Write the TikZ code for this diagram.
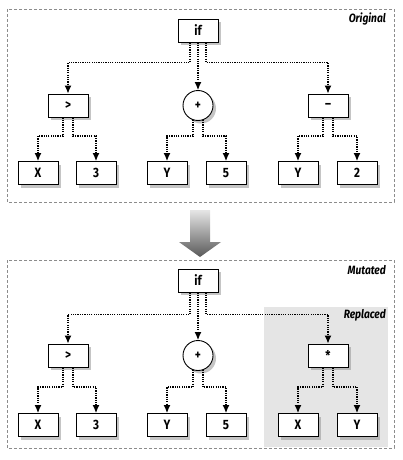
\documentclass[tikz,border=0pt]{standalone}
\usepackage{fontspec}
\setmainfont{Fira Sans}
\newfontfamily\condfont{Fira Sans}[FakeStretch=0.85]
\usetikzlibrary{shadows,arrows.meta,calc}
\begin{document}
\begin{tikzpicture}[x=1pt,y=-1pt,
  shad/.style={drop shadow={shadow xshift=3pt,shadow yshift=-3pt,fill=black!45}},
  box/.style={draw,line width=0.9pt,fill=white,minimum width=40pt,minimum height=23pt,inner sep=0pt,
    font={\condfont\bfseries\fontsize{13.5}{15}\selectfont},shad},
  circ/.style={circle,draw,line width=0.9pt,fill=white,minimum size=30pt,inner sep=0pt,
    font={\condfont\bfseries\fontsize{13.5}{15}\selectfont},shad},
  conn/.style={line width=1.2pt,dash pattern=on 1.2pt off 1.1pt,-{Latex[length=8pt,width=7pt]}},
  frame/.style={draw=black!45,line width=0.6pt,dash pattern=on 3pt off 2pt},
  lbl/.style={anchor=east,inner sep=0pt,font={\condfont\bfseries\itshape\fontsize{12}{14}\selectfont}}]
\useasboundingbox (0,0) rectangle (403,460);
% frames
\draw[frame] (7,9) rectangle (394,202);
\draw[frame] (7,260) rectangle (394,448);
\fill[black!10] (264,307) rectangle (388,447);
\node[lbl] (orig) at (386,19) {Original};
\node[lbl] (mut) at (386,270) {Mutated};
\node[lbl] (repl) at (386,315) {Replaced};
% big arrow
\shade[top color=black!10,bottom color=black!65] (190,210) -- (210,210) -- (210,242) -- (221,242) -- (200,257) -- (179,242) -- (190,242) -- cycle;
% top tree
\node[box] (if1) at (198,30.5) {if};
\node[box] (gt1) at (68,105.5) {>};
\node[circ] (pl1) at (198,105.5) {+};
\node[box] (mi1) at (328,105.5) {–};
\node[box] (x1) at (38,173) {X};
\node[box] (t1) at (96,173) {3};
\node[box] (y1) at (167,173) {Y};
\node[box] (f1) at (226,173) {5};
\node[box] (y2) at (298,173) {Y};
\node[box] (w1) at (357,173) {2};
\draw[conn] ([xshift=-8pt]if1.south) -- ++(0,20) -| (gt1.north);
\draw[conn] (if1.south) -- (pl1.north);
\draw[conn] ([xshift=8pt]if1.south) -- ++(0,20) -| (mi1.north);
\draw[conn] ([xshift=-5pt]gt1.south) |- ($(x1.north)+(0,-25)$) -- (x1.north);
\draw[conn] ([xshift=5pt]gt1.south) |- ($(t1.north)+(0,-25)$) -- (t1.north);
\draw[conn] ($(pl1.center)+(-5,14.2)$) |- ($(y1.north)+(0,-25)$) -- (y1.north);
\draw[conn] ($(pl1.center)+(5,14.2)$) |- ($(f1.north)+(0,-25)$) -- (f1.north);
\draw[conn] ([xshift=-5pt]mi1.south) |- ($(y2.north)+(0,-25)$) -- (y2.north);
\draw[conn] ([xshift=5pt]mi1.south) |- ($(w1.north)+(0,-25)$) -- (w1.north);
% bottom tree
\node[box] (if2) at (198,280.5) {if};
\node[box] (gt2) at (68,355.5) {>};
\node[circ] (pl2) at (198,355.5) {+};
\node[box] (st2) at (328,355.5) {*};
\node[box] (x3) at (38,425) {X};
\node[box] (t3) at (96,425) {3};
\node[box] (y3) at (167,425) {Y};
\node[box] (f3) at (226,425) {5};
\node[box] (x4) at (298,425) {X};
\node[box] (y4) at (357,425) {Y};
\draw[conn] ([xshift=-8pt]if2.south) -- ++(0,22) -| (gt2.north);
\draw[conn] (if2.south) -- (pl2.north);
\draw[conn] ([xshift=8pt]if2.south) -- ++(0,22) -| (st2.north);
\draw[conn] ([xshift=-5pt]gt2.south) |- ($(x3.north)+(0,-26)$) -- (x3.north);
\draw[conn] ([xshift=5pt]gt2.south) |- ($(t3.north)+(0,-26)$) -- (t3.north);
\draw[conn] ($(pl2.center)+(-5,14.2)$) |- ($(y3.north)+(0,-26)$) -- (y3.north);
\draw[conn] ($(pl2.center)+(5,14.2)$) |- ($(f3.north)+(0,-26)$) -- (f3.north);
\draw[conn] ([xshift=-5pt]st2.south) |- ($(x4.north)+(0,-26)$) -- (x4.north);
\draw[conn] ([xshift=5pt]st2.south) |- ($(y4.north)+(0,-26)$) -- (y4.north);
\end{tikzpicture}
\end{document}
